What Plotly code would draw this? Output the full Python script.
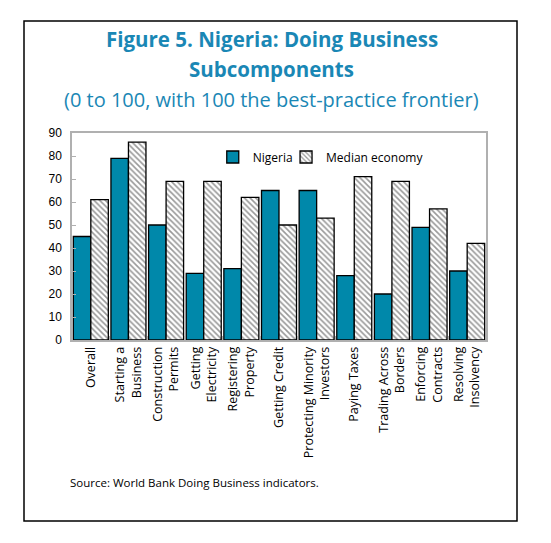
import plotly.graph_objects as go

# data
categories = ["Overall", "Starting a<br>Business", "Construction<br>Permits",
              "Getting<br>Electricity", "Registering<br>Property", "Getting Credit",
              "Protecting Minority<br>Investors", "Paying Taxes",
              "Trading Across<br>Borders", "Enforcing<br>Contracts",
              "Resolving<br>Insolvency"]
nigeria = [45, 79, 50, 29, 31, 65, 65, 28, 20, 49, 30]
median_economy = [61, 86, 69, 69, 62, 50, 53, 71, 69, 57, 42]
y_ticks = [0, 10, 20, 30, 40, 50, 60, 70, 80, 90]

teal = "#0088aa"
title_col = "#1a87b5"

fig = go.Figure()
fig.add_trace(go.Bar(
    x=categories, y=nigeria, name="Nigeria", legend="legend",
    marker=dict(color=teal, line=dict(color="black", width=1.3)),
))
fig.add_trace(go.Bar(
    x=categories, y=median_economy, name="Median economy", legend="legend2",
    marker=dict(color="white", line=dict(color="black", width=1.3),
                pattern=dict(shape="\\", fgcolor="#333333", bgcolor="white",
                             size=4, solidity=0.4)),
))

legend_style = dict(orientation="h", y=0.884, xanchor="left", yanchor="middle",
                    bgcolor="rgba(0,0,0,0)", font=dict(size=12), itemwidth=30)

# page body adds 8px margin, so the figure is drawn 8px smaller
fig.update_layout(
    width=543, height=535,
    margin=dict(l=64, r=65, t=125, b=203),
    paper_bgcolor="white", plot_bgcolor="white",
    barmode="group", bargap=0.07, bargroupgap=0,
    font=dict(family="Open Sans", color="black", size=12),
    showlegend=True,
    legend=dict(x=0.34, **legend_style),
    legend2=dict(x=0.517, **legend_style),
)

fig.update_xaxes(
    tickangle=-90, tickfont=dict(size=12.5, family="Open Sans"),
    showline=True, linecolor="#b0b0b0", linewidth=1.5, mirror=True,
    ticks="inside", tickson="boundaries", ticklen=4, tickcolor="#b0b0b0",
    showgrid=False,
)
fig.update_yaxes(
    range=[0, 90], tickvals=y_ticks,
    tickfont=dict(size=12, family="Liberation Sans"),
    showline=True, linecolor="#b0b0b0", linewidth=1.5, mirror=True,
    ticks="inside", ticklen=4, tickcolor="#b0b0b0", ticklabelstandoff=6,
    showgrid=False, zeroline=False,
)

# titles
fig.add_annotation(
    text="<b>Figure 5. Nigeria: Doing Business</b>", xref="paper", yref="paper",
    x=0.483, y=1.455, xanchor="center", yanchor="middle", showarrow=False,
    font=dict(size=20.5, color=title_col, family="Open Sans"),
)
fig.add_annotation(
    text="<b>Subcomponents</b>", xref="paper", yref="paper",
    x=0.483, y=1.31, xanchor="center", yanchor="middle", showarrow=False,
    font=dict(size=20.5, color=title_col, family="Open Sans"),
)
fig.add_annotation(
    text="(0 to 100, with 100 the best-practice frontier)", xref="paper", yref="paper",
    x=0.483, y=1.16, xanchor="center", yanchor="middle", showarrow=False,
    font=dict(size=20, color=title_col, family="Open Sans"),
)
fig.add_annotation(
    text="Source: World Bank Doing Business indicators.", xref="paper", yref="paper",
    x=-0.01, y=-0.687, xanchor="left", yanchor="middle", showarrow=False,
    font=dict(size=11.5, color="black", family="Open Sans"),
)

# outer black frame
fig.add_shape(
    type="rect", xref="paper", yref="paper",
    xsizemode="pixel", ysizemode="pixel", xanchor=0, yanchor=0,
    x0=-48, x1=445, y0=-181, y1=319,
    line=dict(color="black", width=1.5), fillcolor="rgba(0,0,0,0)",
)

fig.write_html("out.html")
